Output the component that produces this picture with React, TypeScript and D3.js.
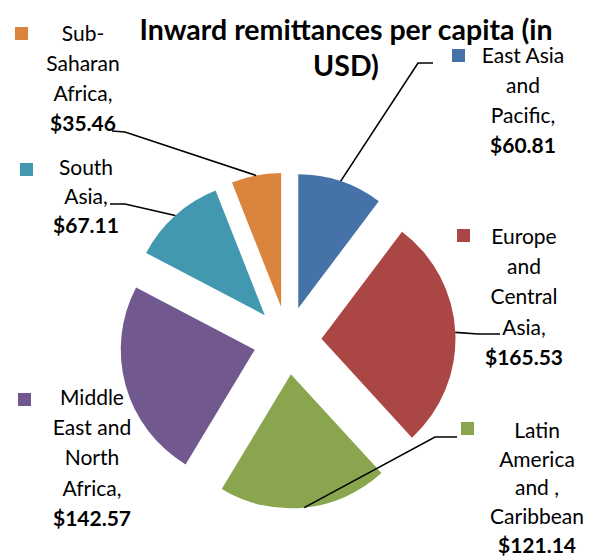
import React from 'react'
import { pie, arc } from 'd3'

const width = 594
const height = 557

// chart data
const regions = [
  'East Asia and Pacific',
  'Europe and Central Asia',
  'Latin America and Caribbean',
  'Middle East and North Africa',
  'South Asia',
  'Sub-Saharan Africa',
]
const values = [60.81, 165.53, 121.14, 142.57, 67.11, 35.46]
const colors = ['#4572A7', '#AA4643', '#89A54E', '#71588F', '#4198AF', '#DB843D']
const labelLines = [
  ['East Asia', 'and', 'Pacific,'],
  ['Europe', 'and', 'Central', 'Asia,'],
  ['Latin', 'America', 'and ,', 'Caribbean'],
  ['Middle', 'East and', 'North', 'Africa,'],
  ['South', 'Asia,'],
  ['Sub-', 'Saharan', 'Africa,'],
]
const titleLines = ['Inward remittances per capita (in', 'USD)']

// layout
const cx = 287.5
const cy = 340.5
const radius = 134
const explode = 34
const fontFamily = 'Lato, "Open Sans", sans-serif'

// label boxes: text center, first baseline, line height, legend key pos, leader elbow/end
const labelLayout = [
  { x: 523, y: 63, lh: 30, key: [452, 49], leader: [[418, 63], [433, 63]] },
  { x: 524, y: 244, lh: 30.2, key: [457, 229], leader: [[478, 334], [500, 334]] },
  { x: 537, y: 438, lh: 28.7, key: [461, 422], leader: [[435, 437], [457, 437]] },
  { x: 92, y: 405, lh: 30.2, key: [18, 393], leader: null },
  { x: 86, y: 175, lh: 29, key: [20, 163], leader: [[125, 204], [110, 204]] },
  { x: 83, y: 41, lh: 30, key: [15, 27], leader: [[125, 132], [112, 131]] },
]

const fmt = (v: number) => '$' + v.toFixed(2)

function App() {
  const arcs = pie<number>().sort(null).value(d => d)(values)
  const slice = arc<any>().innerRadius(0).outerRadius(radius)
  const rim = arc<any>().innerRadius(radius).outerRadius(radius)

  return (
    <svg width={width} height={height} style={{ position: 'absolute', left: 0, top: 0, background: '#fff' }}>
      <g transform={`translate(${cx},${cy})`}>
        {arcs.map((a, i) => {
          const mid = (a.startAngle + a.endAngle) / 2
          const ox = explode * Math.sin(mid)
          const oy = -explode * Math.cos(mid)
          return (
            <path key={regions[i]} transform={`translate(${ox},${oy})`} d={slice(a) as string} fill={colors[i]} />
          )
        })}
      </g>
      {/* leader lines */}
      {arcs.map((a, i) => {
        const lay = labelLayout[i]
        if (!lay.leader) return null
        const mid = (a.startAngle + a.endAngle) / 2
        const [px, py] = rim.centroid(a)
        const ax = cx + px + explode * Math.sin(mid)
        const ay = cy + py - explode * Math.cos(mid)
        const pts = [[ax, ay], ...lay.leader]
        return (
          <polyline key={'l' + i} points={pts.map(p => p.join(',')).join(' ')} fill="none" stroke="#000" strokeWidth={1.6} />
        )
      })}
      {/* labels */}
      {regions.map((r, i) => {
        const lay = labelLayout[i]
        const lines = labelLines[i]
        return (
          <g key={'t' + r} fontFamily={fontFamily} fontSize={21} fill="#000">
            <rect x={lay.key[0]} y={lay.key[1]} width={13} height={13} fill={colors[i]} />
            {lines.map((t, j) => (
              <text key={j} x={lay.x} y={lay.y + j * lay.lh} textAnchor="middle" style={{ whiteSpace: 'pre' }}>{t}</text>
            ))}
            <text x={lay.x} y={lay.y + lines.length * lay.lh} textAnchor="middle" fontWeight="bold">{fmt(values[i])}</text>
          </g>
        )
      })}
      {titleLines.map((t, j) => (
        <text key={t} x={346} y={40 + j * 36} textAnchor="middle" fontFamily={fontFamily} fontWeight="bold" fontSize={28.5} fill="#000">{t}</text>
      ))}
    </svg>
  )
}

export default App
